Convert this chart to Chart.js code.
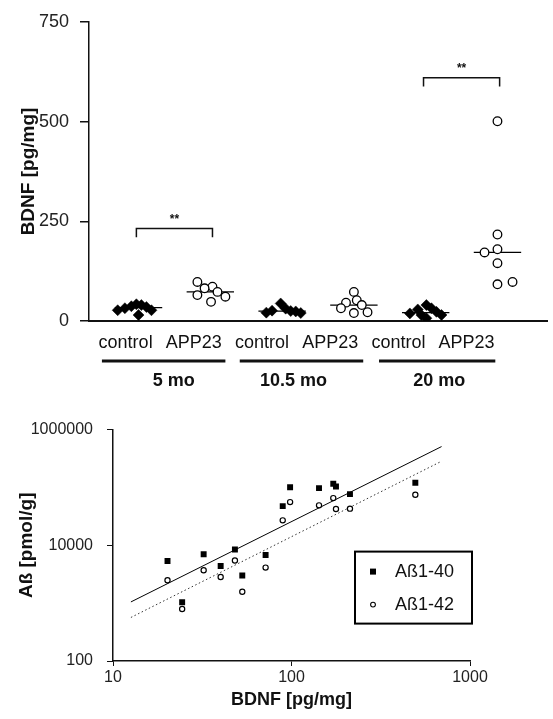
<!DOCTYPE html>
<html>
<head>
<meta charset="utf-8">
<script src="https://cdn.jsdelivr.net/npm/chart.js@4.4.0/dist/chart.umd.min.js"></script>
<style>
  html, body { margin: 0; padding: 0; background: #fff; }
  #wrap { position: relative; width: 553px; height: 719px; }
  #top { position: absolute; left: 0; top: 0; }
  #bottom { position: absolute; left: 0; top: 406px; }
</style>
</head>
<body>
<div id="wrap">
  <canvas id="top" width="553" height="406" style="width:553px;height:406px"></canvas>
  <canvas id="bottom" width="553" height="313" style="width:553px;height:313px"></canvas>
</div>
<script>
// ---- top panel: BDNF [pg/mg] per animal ----
const ages = ['5 mo', '10.5 mo', '20 mo'];
const groups = ['control', 'APP23'];
const control5 = [27, 32, 37, 42, 40, 35, 27, 15];
const app5 = [98, 86, 82, 65, 73, 61, 48];
const control10 = [21, 26, 44, 31, 25, 24, 20];
const app10 = [73, 46, 52, 32, 40, 20, 22];
const control20 = [19, 29, 40, 32, 23, 15, 7, 15];
const app20 = [501, 217, 172, 180, 145, 92, 98];
const yTicksTop = [0, 250, 500, 750];
const sigPairs = [[1, 2], [5, 6]];   // group positions joined by a bracket
const sigLevels = [232, 610];
const sigText = '**';

// ---- bottom panel: Abeta vs BDNF ----
const bdnf = [20.2, 24.4, 32.2, 40.1, 48.2, 53, 71.6, 89.3, 98.2, 142.6, 171.4, 177.5, 212.6, 494];
const ab40 = [5360, 1040, 7000, 4400, 8430, 3000, 6800, 47600, 101000, 97300, 115800, 104000, 76600, 120500];
const ab42 = [2490, 790, 3700, 2840, 5450, 1570, 4120, 27000, 55800, 49000, 65500, 42300, 43000, 74800];
const fitX = [12.6, 693];
const fit40 = [1050, 509000];
const fit42 = [566, 284000];
const xTicksBottom = [10, 100, 1000];
const yTicksBottom = [100, 10000, 1000000];

const FONT = '"Liberation Sans", Arial, sans-serif';
const INK = '#111';

// horizontal scatter of the dots inside each column (x scale units)
const spread = [
  [-0.29, -0.19, -0.10, -0.03, 0.04, 0.11, 0.18, 0],
  [-0.18, 0.03, -0.08, -0.18, 0.10, 0.21, 0.01],
  [-0.22, -0.14, -0.02, 0.05, 0.12, 0.19, 0.26],
  [0, -0.11, 0.04, -0.18, 0.11, 0, 0.19],
  [-0.22, -0.11, 0.01, 0.08, 0.15, 0.22, 0.01, -0.06],
  [0, 0, -0.18, 0, 0, 0, 0.21]
];
const columns = [control5, app5, control10, app10, control20, app20];

function median(arr) {
  const s = [...arr].sort((a, b) => a - b);
  const m = Math.floor(s.length / 2);
  return s.length % 2 ? s[m] : (s[m - 1] + s[m]) / 2;
}

const pointSets = columns.map((vals, i) => {
  const isControl = i % 2 === 0;
  return {
    label: groups[i % 2] + ' ' + ages[Math.floor(i / 2)],
    data: vals.map((v, k) => ({ x: i + 1 + spread[i][k], y: v })),
    pointStyle: isControl ? 'rectRot' : 'circle',
    pointRadius: isControl ? 5.5 : 4.3,
    backgroundColor: isControl ? '#000' : '#fff',
    borderColor: '#000',
    borderWidth: isControl ? 0.5 : 1.3
  };
});

const medianSets = columns.map((vals, i) => {
  const m = median(vals);
  return {
    type: 'line',
    label: 'median',
    data: [{ x: i + 1 - 0.33, y: m }, { x: i + 1 + 0.33, y: m }],
    borderColor: '#000',
    borderWidth: 1.3,
    pointRadius: 0
  };
});

const topDecor = {
  id: 'topDecor',
  afterDraw(chart) {
    const { ctx, chartArea, scales: { x, y } } = chart;
    const base = chartArea.bottom;
    ctx.save();
    ctx.fillStyle = INK;
    ctx.strokeStyle = INK;
    ctx.textAlign = 'center';
    ctx.textBaseline = 'middle';

    // column names under the axis
    ctx.font = '18px ' + FONT;
    for (let i = 0; i < 6; i++) {
      ctx.fillText(groups[i % 2], x.getPixelForValue(0.82 + i * 0.95), base + 22);
    }

    // age bars and labels
    const spans = [[0.49, 2.21], [2.41, 4.13], [4.35, 5.97]];
    const ageX = [1.49, 3.16, 5.19];
    ctx.lineWidth = 3;
    ctx.font = 'bold 18px ' + FONT;
    ages.forEach((a, k) => {
      ctx.beginPath();
      ctx.moveTo(x.getPixelForValue(spans[k][0]), base + 40);
      ctx.lineTo(x.getPixelForValue(spans[k][1]), base + 40);
      ctx.stroke();
      ctx.fillText(a, x.getPixelForValue(ageX[k]), base + 60);
    });

    // significance brackets
    ctx.lineWidth = 1.5;
    ctx.font = 'bold 12px ' + FONT;
    sigPairs.forEach((p, k) => {
      const x1 = x.getPixelForValue(p[0] - 0.03);
      const x2 = x.getPixelForValue(p[1] + 0.03);
      const yt = y.getPixelForValue(sigLevels[k]);
      const yb = y.getPixelForValue(sigLevels[k] - 22);
      ctx.beginPath();
      ctx.moveTo(x1, yb);
      ctx.lineTo(x1, yt);
      ctx.lineTo(x2, yt);
      ctx.lineTo(x2, yb);
      ctx.stroke();
      ctx.fillText(sigText, (x1 + x2) / 2, yt - 9);
    });
    ctx.restore();
  }
};

new Chart(document.getElementById('top'), {
  type: 'scatter',
  data: { datasets: [...pointSets, ...medianSets] },
  options: {
    responsive: false,
    animation: false,
    layout: { padding: { top: 22, left: 0, right: 0, bottom: 0 } },
    plugins: { legend: { display: false }, tooltip: { enabled: false } },
    scales: {
      x: {
        type: 'linear', min: 0.31, max: 6.69,
        afterFit: s => { s.height = 85; },
        ticks: { display: false },
        grid: { display: false, drawTicks: false },
        border: { color: INK, width: 2 }
      },
      y: {
        type: 'linear', min: 0, max: 750,
        afterFit: s => { s.width = 89; },
        afterBuildTicks: s => { s.ticks = yTicksTop.map(v => ({ value: v })); },
        ticks: { color: '#222', padding: 11, font: { family: FONT, size: 18 } },
        grid: { drawOnChartArea: false, tickLength: 9, color: INK, lineWidth: 1.5 },
        border: { color: INK, width: 1.5 },
        title: {
          display: true, text: 'BDNF [pg/mg]', color: INK,
          font: { family: FONT, size: 19, weight: 'bold' },
          padding: { top: 17, bottom: 0 }
        }
      }
    }
  },
  plugins: [topDecor]
});

// ---- bottom chart ----
const legendBox = {
  id: 'legendBox',
  afterDraw(chart) {
    const { ctx, chartArea } = chart;
    const left = chartArea.right - 115, top = chartArea.top + 122;
    const w = 117, h = 72;
    ctx.save();
    ctx.strokeStyle = '#000';
    ctx.lineWidth = 2;
    ctx.fillStyle = '#fff';
    ctx.fillRect(left, top, w, h);
    ctx.strokeRect(left, top, w, h);
    const sets = chart.data.datasets.slice(0, 2);
    ctx.font = '18px ' + FONT;
    ctx.textBaseline = 'middle';
    ctx.textAlign = 'left';
    sets.forEach((ds, k) => {
      const cy = top + 20 + k * 33;
      const cx = left + 18;
      ctx.fillStyle = '#000';
      if (ds.pointStyle === 'rect') {
        ctx.fillRect(cx - 3, cy - 3, 6, 6);
      } else {
        ctx.beginPath();
        ctx.arc(cx, cy, 2.4, 0, Math.PI * 2);
        ctx.fillStyle = '#fff';
        ctx.fill();
        ctx.lineWidth = 1.1;
        ctx.stroke();
      }
      ctx.fillStyle = INK;
      ctx.fillText(ds.label, left + 40, cy);
    });
    ctx.restore();
  }
};

new Chart(document.getElementById('bottom'), {
  type: 'scatter',
  data: {
    datasets: [
      {
        label: 'Aß1-40',
        data: bdnf.map((b, i) => ({ x: b, y: ab40[i] })),
        pointStyle: 'rect', pointRadius: 4.2,
        backgroundColor: '#000', borderColor: '#000', borderWidth: 0
      },
      {
        label: 'Aß1-42',
        data: bdnf.map((b, i) => ({ x: b, y: ab42[i] })),
        pointStyle: 'circle', pointRadius: 2.6,
        backgroundColor: '#fff', borderColor: '#000', borderWidth: 1.2
      },
      {
        type: 'line', label: 'fit 1-40',
        data: fitX.map((v, i) => ({ x: v, y: fit40[i] })),
        borderColor: '#000', borderWidth: 1, pointRadius: 0
      },
      {
        type: 'line', label: 'fit 1-42',
        data: fitX.map((v, i) => ({ x: v, y: fit42[i] })),
        borderColor: '#333', borderWidth: 1, borderDash: [1.5, 2.5], pointRadius: 0
      }
    ]
  },
  options: {
    responsive: false,
    animation: false,
    layout: { padding: { top: 0, right: 83, left: 0, bottom: 0 } },
    plugins: { legend: { display: false }, tooltip: { enabled: false } },
    scales: {
      x: {
        type: 'logarithmic', min: 10, max: 1000,
        afterFit: s => { s.height = 58; },
        afterBuildTicks: s => { s.ticks = xTicksBottom.map(v => ({ value: v })); },
        ticks: { callback: v => String(v), color: '#222', padding: 2, maxRotation: 0, font: { family: FONT, size: 16 } },
        grid: { drawOnChartArea: false, tickLength: 5, color: INK },
        border: { color: INK, width: 1.5 },
        title: {
          display: true, text: 'BDNF [pg/mg]', color: INK,
          font: { family: FONT, size: 18, weight: 'bold' },
          padding: { top: 0, bottom: 8 }
        }
      },
      y: {
        type: 'logarithmic', min: 100, max: 1000000,
        afterFit: s => { s.width = 113; },
        afterBuildTicks: s => { s.ticks = yTicksBottom.map(v => ({ value: v })); },
        ticks: { callback: v => String(v), color: '#222', padding: 14, font: { family: FONT, size: 16 } },
        grid: { drawOnChartArea: false, tickLength: 6, color: INK },
        border: { color: INK, width: 1.5 },
        title: {
          display: true, text: 'Aß [pmol/g]', color: INK,
          font: { family: FONT, size: 19, weight: 'bold' },
          padding: { top: 15, bottom: 0 }
        }
      }
    }
  },
  plugins: [legendBox]
});
</script>
</body>
</html>
